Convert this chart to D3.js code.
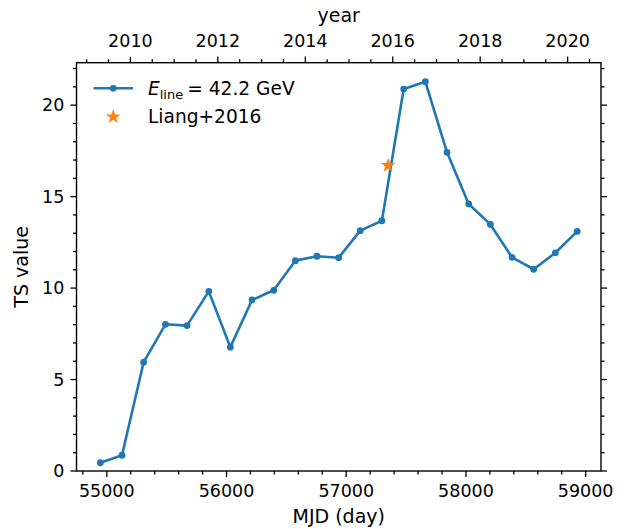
<!DOCTYPE html>
<html><head><meta charset="utf-8">
<script src="https://cdn.jsdelivr.net/npm/d3@7"></script>
<style>
html,body{margin:0;padding:0;background:#fff;}
svg text{font-family:"DejaVu Sans",sans-serif;fill:#000;}
</style></head>
<body><svg id="c" width="626" height="529"></svg>
<script>
// ---- data ----
const mjd = [54946, 55127, 55308, 55490, 55670, 55852, 56032, 56213, 56394, 56575, 56756, 56937,
             57117, 57298, 57480, 57661, 57842, 58023, 58204, 58385, 58566, 58747, 58929];
const tsValue = [0.45, 0.86, 5.95, 8.02, 7.95, 9.82, 6.77, 9.35, 9.88, 11.50, 11.74, 11.66,
                 13.14, 13.68, 20.88, 21.28, 17.42, 14.60, 13.48, 11.68, 11.03, 11.93, 13.10];
const liangMjd = [57350];
const liangTs = [16.7];
const xTicks = [55000, 56000, 57000, 58000, 59000];
const yTicks = [0, 5, 10, 15, 20];
const yearTicks = [2010, 2012, 2014, 2016, 2018, 2020];
const legendLabels = ["42.2 GeV", "Liang+2016"];

const FS = 17.5, LFS = 19, GFS = 18.6;
const blue = "#1f77b4", orange = "#ff7f0e";
const svg = d3.select("#c");
const L = 76.5, R = 601, T = 62.7, B = 471;

const xmin = d3.min(mjd), xmax = d3.max(mjd), xpad = 0.05 * (xmax - xmin);
const x = d3.scaleLinear().domain([xmin - xpad, xmax + xpad]).range([L, R]);
const ymax = d3.max(tsValue), ymin = d3.min(tsValue);
const y = d3.scaleLinear().domain([0, ymax + 0.05 * (ymax - ymin)]).range([B, T]);
const toYear = m => 2010 + (m - 55197) / 365.25;
const xy = d3.scaleLinear().domain(x.domain().map(toYear)).range([L, R]);

const MAJ = 6.1, MIN = 3.5;
const g = svg.append("g").attr("stroke", "#000").attr("stroke-width", 1.3);

function ticks(vals, len, side, scale) {
  vals.forEach(v => {
    const p = scale(v);
    if (side === "bottom") g.append("line").attr("x1", p).attr("x2", p).attr("y1", B).attr("y2", B + len);
    if (side === "top") g.append("line").attr("x1", p).attr("x2", p).attr("y1", T).attr("y2", T - len);
    if (side === "left") g.append("line").attr("y1", p).attr("y2", p).attr("x1", L).attr("x2", L - len);
    if (side === "right") g.append("line").attr("y1", p).attr("y2", p).attr("x1", R).attr("x2", R + len);
  });
}

const xd = x.domain();
const xMinor = d3.range(Math.ceil(xd[0] / 200) * 200, xd[1], 200).filter(v => v % 1000 !== 0);
ticks(xTicks, MAJ, "bottom", x);
ticks(xMinor, MIN, "bottom", x);
const yd = xy.domain();
const yrMinor = d3.range(Math.ceil(yd[0] * 2) / 2, yd[1], 0.5).filter(v => v % 2 !== 0);
ticks(yearTicks, MAJ, "top", xy);
ticks(yrMinor, MIN, "top", xy);
const tMinor = d3.range(0, y.domain()[1], 1).filter(v => v % 5 !== 0);
ticks(yTicks, MAJ, "left", y);
ticks(tMinor, MIN, "left", y);
ticks(yTicks, MAJ, "right", y);
ticks(tMinor, MIN, "right", y);

// spines
svg.append("rect").attr("x", L).attr("y", T).attr("width", R - L).attr("height", B - T)
  .attr("fill", "none").attr("stroke", "#000").attr("stroke-width", 1.4);

// tick labels
svg.selectAll(".xl").data(xTicks).enter().append("text")
  .attr("x", d => x(d)).attr("y", 497).attr("text-anchor", "middle").attr("font-size", FS).text(d => d);
svg.selectAll(".yrl").data(yearTicks).enter().append("text")
  .attr("x", d => xy(d)).attr("y", 46.5).attr("text-anchor", "middle").attr("font-size", FS).text(d => d);
svg.selectAll(".yl").data(yTicks).enter().append("text")
  .attr("x", L - 12.2).attr("y", d => y(d) + 6.3).attr("text-anchor", "end").attr("font-size", FS).text(d => d);

// axis labels
svg.append("text").attr("x", (L + R) / 2).attr("y", 523).attr("text-anchor", "middle").attr("font-size", LFS).text("MJD (day)");
svg.append("text").attr("x", (L + R) / 2).attr("y", 22).attr("text-anchor", "middle").attr("font-size", LFS).text("year");
svg.append("text").attr("transform", `translate(28,${(T + B) / 2}) rotate(-90)`).attr("text-anchor", "middle")
  .attr("font-size", LFS).text("TS value");

// data line
const pts = mjd.map((m, i) => [m, tsValue[i]]);
svg.append("path").datum(pts).attr("fill", "none").attr("stroke", blue).attr("stroke-width", 2.6)
  .attr("stroke-linejoin", "round")
  .attr("d", d3.line().x(d => x(d[0])).y(d => y(d[1])));
svg.selectAll(".pt").data(pts).enter().append("circle")
  .attr("cx", d => x(d[0])).attr("cy", d => y(d[1])).attr("r", 3.4).attr("fill", blue);

const star = d3.symbol().type(d3.symbolStar).size(68);
svg.selectAll(".st").data(liangMjd).enter().append("path")
  .attr("d", star).attr("fill", orange)
  .attr("transform", (d, i) => `translate(${x(d)},${y(liangTs[i])})`);

// legend
const lg = svg.append("g");
lg.append("line").attr("x1", 93.5).attr("x2", 133).attr("y1", 88.3).attr("y2", 88.3)
  .attr("stroke", blue).attr("stroke-width", 2.6);
lg.append("circle").attr("cx", 113.2).attr("cy", 88.3).attr("r", 3.4).attr("fill", blue);
const t1 = lg.append("text").attr("x", 148).attr("y", 94.8).attr("font-size", GFS);
t1.append("tspan").attr("font-style", "italic").text("E");
t1.append("tspan").attr("font-size", GFS * 0.7).attr("dy", 4).text("line");
t1.append("tspan").attr("dy", -4).attr("dx", 4).text("= " + legendLabels[0]);
lg.append("path").attr("d", star).attr("fill", orange).attr("transform", "translate(113.2,116.8)");
lg.append("text").attr("x", 148).attr("y", 123.3).attr("font-size", GFS).text(legendLabels[1]);
</script></body></html>
